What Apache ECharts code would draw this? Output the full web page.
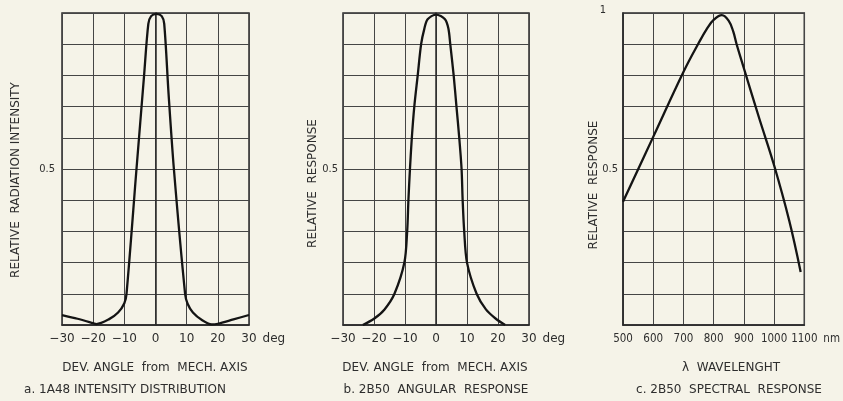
<!DOCTYPE html>
<html><head><meta charset="utf-8">
<script src="https://cdn.jsdelivr.net/npm/echarts@6/dist/echarts.min.js"></script>
<style>html,body{margin:0;padding:0;background:#f5f3e8}#c{width:843px;height:401px}</style>
</head><body><div id="c"></div>
<script>
// a. 1A48 intensity distribution
const angleA = [-30,-25,-20,-19,-15,-12,-10,-9.3,-6.1,-3.7,-2.3,-1.4,0.3,2.0,2.8,4.2,5.9,9.5,10.3,12,15,18,20,25,30];
const valueA = [0.032,0.02,0.006,0.003,0.018,0.04,0.07,0.1,0.5,0.795,0.965,0.99,0.997,0.99,0.965,0.74,0.5,0.1,0.068,0.04,0.015,0.002,0.004,0.018,0.032];
// b. 2B50 angular response
const angleB = [-23.6,-20,-16.6,-13.4,-10.2,-9.3,-8.9,-8.4,-7.8,-7.0,-5.9,-4.8,-3.75,-2.7,0,2.9,4.0,4.6,5.7,6.6,7.5,8.25,8.6,9.1,10,13.1,16.1,19.3,22.3];
const valueB = [0,0.02,0.05,0.1,0.2,0.3,0.4,0.5,0.6,0.7,0.8,0.9,0.95,0.98,0.995,0.98,0.95,0.9,0.8,0.7,0.6,0.5,0.4,0.3,0.2,0.1,0.05,0.02,0];
// c. 2B50 spectral response
const waveC = [500,600,700,750,780,800,827,850,865,876,900,950,1000,1050,1088];
const valueC = [0.395,0.603,0.811,0.903,0.953,0.978,0.993,0.975,0.94,0.9,0.823,0.665,0.512,0.335,0.17];

const angleTicks = ['\u221230','\u221220','\u221210','0','10','20','30'];
const waveTicks = ['500','600','700','800','900','1000','1100'];

const FONT = '"DejaVu Sans", sans-serif';
const FONTC = '"DejaVu Sans Condensed", "DejaVu Sans", sans-serif';
const TXT = '#2e2e2e';
const GRIDC = '#454545';

function xAxis(gi, min, max, interval, ticks, unit, fs, gap, font) {
  return {
    type: 'value', gridIndex: gi, min: min, max: max, interval: interval,
    axisLine: {show: true, lineStyle: {color: '#2a2a2a', width: 1.5}},
    axisTick: {show: false},
    splitLine: {show: true, lineStyle: {color: GRIDC, width: 1}},
    axisLabel: {color: TXT, fontFamily: font, fontSize: fs, margin: 8,
      formatter: function (v) { return ticks[Math.round((v - min) / interval)]; }},
    name: unit, nameLocation: 'end', nameGap: gap,
    nameTextStyle: {color: TXT, fontFamily: font, fontSize: fs, align: 'left', verticalAlign: 'top', padding: [8, 0, 0, 0]}
  };
}
function yAxis(gi, showOne, margin) {
  return {
    type: 'value', gridIndex: gi, min: 0, max: 1, interval: 0.1,
    axisLine: {show: true, lineStyle: {color: '#2a2a2a', width: 1.5}},
    axisTick: {show: false},
    splitLine: {show: true, lineStyle: {color: GRIDC, width: 1}},
    axisLabel: {color: TXT, fontFamily: FONTC, fontSize: 11, margin: margin,
      formatter: function (v) {
        if (Math.abs(v - 0.5) < 1e-6) return '0.5';
        if (showOne && Math.abs(v - 1) < 1e-6) return '{one|1}';
        return '';
      },
      rich: {one: {color: TXT, fontFamily: FONTC, fontSize: 11, padding: [0, 12, 6, 0]}}
    }
  };
}
function pairs(xs, ys) { return xs.map(function (x, i) { return [x, ys[i]]; }); }
function lineSeries(gi, xs, ys, smooth) {
  return {type: 'line', xAxisIndex: gi, yAxisIndex: gi, data: pairs(xs, ys), showSymbol: false,
    smooth: smooth, clip: false, lineStyle: {color: '#141414', width: 2.3}, z: 5};
}
function txt(t, x, y, rot) {
  return {type: 'text', x: x, y: y, rotation: rot || 0,
    style: {text: t, fill: TXT, font: '12px ' + FONT, textAlign: 'center', textVerticalAlign: 'middle'}};
}

const chart = echarts.init(document.getElementById('c'));
chart.setOption({
  backgroundColor: '#f5f3e8',
  animation: false,
  grid: [
    {left: 62, top: 13, width: 187, height: 312, show: true, borderColor: '#2a2a2a', borderWidth: 1.5},
    {left: 343, top: 13, width: 186, height: 312, show: true, borderColor: '#2a2a2a', borderWidth: 1.5},
    {left: 623, top: 13, width: 186, height: 312, show: true, borderColor: '#2a2a2a', borderWidth: 1.5}
  ],
  xAxis: [
    xAxis(0, -30, 30, 10, angleTicks, 'deg', 12, 11, FONT),
    xAxis(1, -30, 30, 10, angleTicks, 'deg', 12, 11, FONT),
    xAxis(2, 500, 1100, 100, waveTicks, 'nm', 11.5, 14, FONTC)
  ],
  yAxis: [yAxis(0, false, 7), yAxis(1, false, 5), yAxis(2, true, 5)],
  series: [
    lineSeries(0, angleA, valueA, 0.3),
    lineSeries(1, angleB, valueB, 0.3),
    lineSeries(2, waveC, valueC, 0.4)
  ],
  graphic: [
    txt('RELATIVE  RADIATION INTENSITY', 15.5, 180, Math.PI / 2),
    txt('RELATIVE  RESPONSE', 313, 183.5, Math.PI / 2),
    txt('RELATIVE  RESPONSE', 594, 185, Math.PI / 2),
    txt('DEV. ANGLE  from  MECH. AXIS', 155, 368),
    txt('DEV. ANGLE  from  MECH. AXIS', 435, 368),
    txt('\u03bb  WAVELENGHT', 731, 368),
    txt('a. 1A48 INTENSITY DISTRIBUTION', 125, 390),
    txt('b. 2B50  ANGULAR  RESPONSE', 436, 390),
    txt('c. 2B50  SPECTRAL  RESPONSE', 729, 390)
  ]
});
</script></body></html>
